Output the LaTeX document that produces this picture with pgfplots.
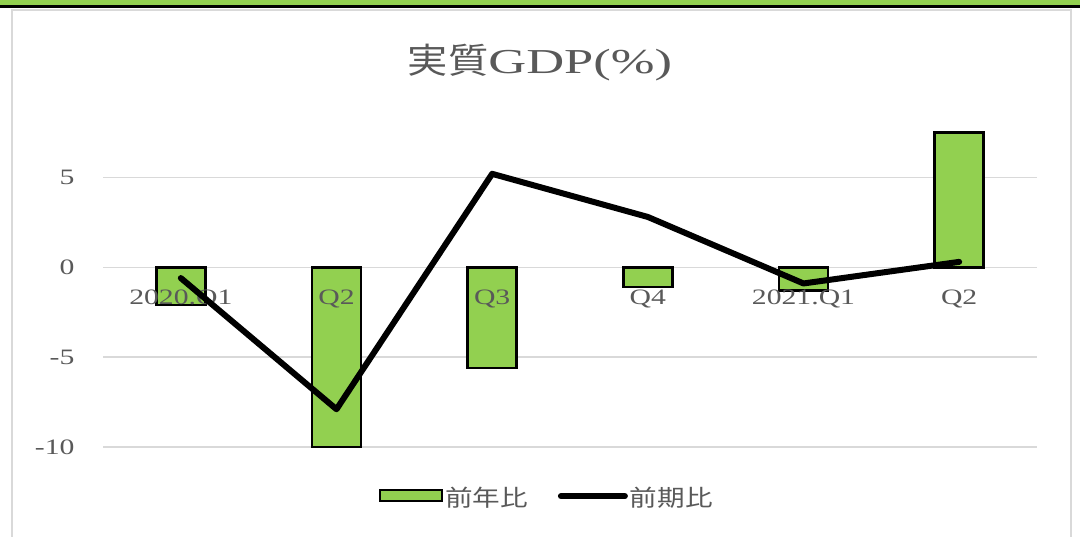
\documentclass[border=0pt]{standalone}
\usepackage{fontspec}
\setmainfont{Liberation Serif}[FakeStretch=1.35]
\newfontfamily\titlelatin{Liberation Serif}[FakeStretch=1.5]
\newfontfamily\cjk{Noto Sans CJK JP}
\newfontfamily\cjkw{Noto Sans CJK JP}[FakeStretch=1.15]
\newfontfamily\cjkl{Noto Sans CJK JP}[FakeStretch=1.2]
\usepackage{pgfplots}
\pgfplotsset{compat=1.18}
\definecolor{xlgreen}{HTML}{92D050}
\definecolor{txtgray}{HTML}{595959}
\definecolor{gridgray}{HTML}{D9D9D9}
\pgfplotsset{
  gdpbase/.style={
    at={(103pt,89pt)}, anchor=south west,
    scale only axis, width=934pt, height=323.5pt,
    xmin=-0.5, xmax=5.5, ymin=-10, ymax=8,
    axis x line=middle, axis y line=left,
    axis line style={draw=none},
    hide obscured x ticks=false, hide obscured y ticks=false,
    major tick length=0pt,
    xtick={0,1,2,3,4,5}, ytick={-10,-5,0,5},
    clip=false,
  }
}
\begin{document}
\begin{tikzpicture}[x=1pt,y=1pt]
\useasboundingbox (0,0) rectangle (1080,536);
\fill[white] (0,0) rectangle (1080,536);
\fill[xlgreen] (0,530) rectangle (1080,536);
\fill[black] (0,527.5) rectangle (1080,530.5);
\draw[gridgray, line width=2pt] (12,-5) -- (12,526) -- (1071,526) -- (1071,-5);
\node[txtgray, inner sep=0pt] at (540,473) {\fontsize{35}{40}\selectfont{\cjkw 実質}{\titlelatin GDP(\%)}};
% axis 1: grid and bars
\begin{axis}[gdpbase,
  xticklabels={}, yticklabels={},
  ymajorgrids, grid style={gridgray, line width=1.5pt},
]
\addplot[ybar, bar width=49pt, fill=xlgreen, draw=black, line width=2.5pt]
  coordinates {(0,-2.1) (1,-10) (2,-5.6) (3,-1.1) (4,-1.3) (5,7.5)};
\end{axis}
% axis 2: tick labels, line, legend
\begin{axis}[gdpbase,
  xticklabels={2020.Q1,Q2,Q3,Q4,2021.Q1,Q2},
  yticklabels={-10,-5,0,5},
  tick label style={font=\fontsize{22}{26}\selectfont, text=txtgray},
  xticklabel style={yshift=-19pt},
  yticklabel style={xshift=-25pt},
  legend columns=2,
  legend style={draw=none, fill=none, at={(0.475,-0.155)}, anchor=center,
    font=\cjkl\fontsize{23}{27}\selectfont, text=txtgray,
    /tikz/every even column/.append style={column sep=28pt}},
]
\addlegendimage{legend image code/.code={\draw[fill=xlgreen, draw=black, line width=2.5pt] (0pt,-4pt) rectangle (62pt,7pt);}}
\addlegendentry{前年比}
\addplot[black, line width=6pt, line cap=round, line join=round,
  legend image code/.code={\draw[black, line width=6pt, line cap=round] (3pt,1pt) -- (67pt,1pt);}]
  coordinates {(0,-0.6) (1,-7.9) (2,5.2) (3,2.8) (4,-0.9) (5,0.3)};
\addlegendentry{前期比}
\end{axis}
\end{tikzpicture}
\end{document}
